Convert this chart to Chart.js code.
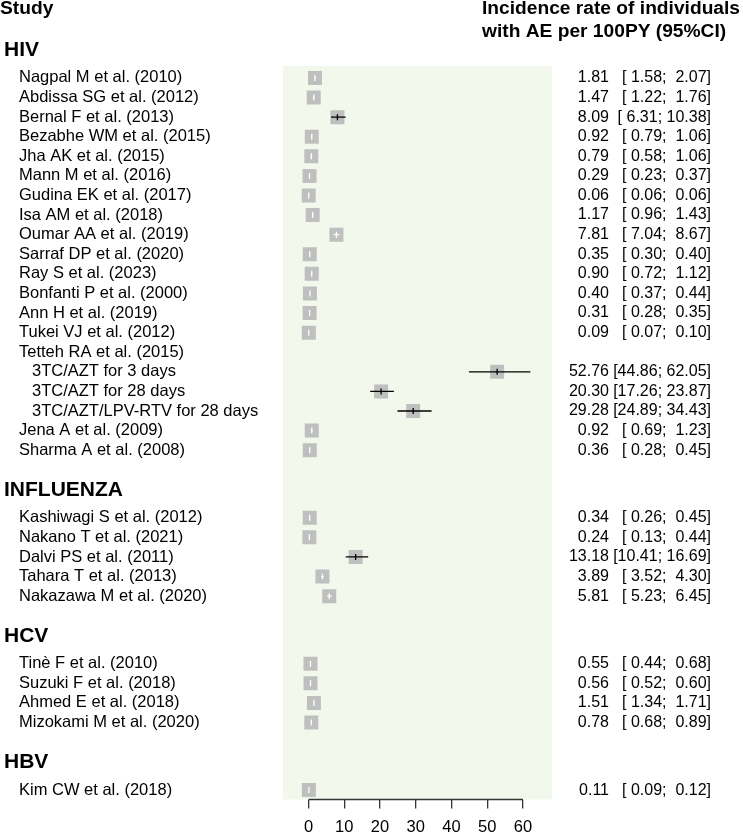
<!DOCTYPE html>
<html>
<head>
<meta charset="utf-8">
<script src="https://cdn.jsdelivr.net/npm/chart.js@4/dist/chart.umd.min.js"></script>
<style>
  body { margin: 0; background: #fff; }
  canvas { display: block; }
</style>
</head>
<body>
<canvas id="forest" width="743" height="835"></canvas>
<script>
// subgroups, in drawing order
const groups = ["HIV", "INFLUENZA", "HCV", "HBV"];

// one entry per row
const studies = [
  "Nagpal M et al. (2010)", "Abdissa SG et al. (2012)", "Bernal F et al. (2013)",
  "Bezabhe WM et al. (2015)", "Jha AK et al. (2015)", "Mann M et al. (2016)",
  "Gudina EK et al. (2017)", "Isa AM et al. (2018)", "Oumar AA et al. (2019)",
  "Sarraf DP et al. (2020)", "Ray S et al. (2023)", "Bonfanti P et al. (2000)",
  "Ann H et al. (2019)", "Tukei VJ et al. (2012)", "Tetteh RA et al. (2015)",
  "3TC/AZT for 3 days", "3TC/AZT for 28 days", "3TC/AZT/LPV-RTV for 28 days",
  "Jena A et al. (2009)", "Sharma A et al. (2008)",
  "Kashiwagi S et al. (2012)", "Nakano T et al. (2021)", "Dalvi PS et al. (2011)",
  "Tahara T et al. (2013)", "Nakazawa M et al. (2020)",
  "Tinè F et al. (2010)", "Suzuki F et al. (2018)", "Ahmed E et al. (2018)",
  "Mizokami M et al. (2020)",
  "Kim CW et al. (2018)"
];
const studyGroup = [
  "HIV", "HIV", "HIV", "HIV", "HIV", "HIV", "HIV", "HIV", "HIV", "HIV",
  "HIV", "HIV", "HIV", "HIV", "HIV", "HIV", "HIV", "HIV", "HIV", "HIV",
  "INFLUENZA", "INFLUENZA", "INFLUENZA", "INFLUENZA", "INFLUENZA",
  "HCV", "HCV", "HCV", "HCV",
  "HBV"
];
// sub-analyses belong to a parent study
const parentStudy = [
  null, null, null, null, null, null, null, null, null, null,
  null, null, null, null, null,
  "Tetteh RA et al. (2015)", "Tetteh RA et al. (2015)", "Tetteh RA et al. (2015)",
  null, null,
  null, null, null, null, null,
  null, null, null, null,
  null
];

// incidence per 100PY with 95% CI
const est = [
  1.81, 1.47, 8.09, 0.92, 0.79, 0.29, 0.06, 1.17, 7.81, 0.35,
  0.90, 0.40, 0.31, 0.09, null, 52.76, 20.30, 29.28, 0.92, 0.36,
  0.34, 0.24, 13.18, 3.89, 5.81,
  0.55, 0.56, 1.51, 0.78,
  0.11
];
const lower = [
  1.58, 1.22, 6.31, 0.79, 0.58, 0.23, 0.06, 0.96, 7.04, 0.30,
  0.72, 0.37, 0.28, 0.07, null, 44.86, 17.26, 24.89, 0.69, 0.28,
  0.26, 0.13, 10.41, 3.52, 5.23,
  0.44, 0.52, 1.34, 0.68,
  0.09
];
const upper = [
  2.07, 1.76, 10.38, 1.06, 1.06, 0.37, 0.06, 1.43, 8.67, 0.40,
  1.12, 0.44, 0.35, 0.10, null, 62.05, 23.87, 34.43, 1.23, 0.45,
  0.45, 0.44, 16.69, 4.30, 6.45,
  0.68, 0.60, 1.71, 0.89,
  0.12
];

const xTicks = [0, 10, 20, 30, 40, 50, 60];

const FONT = '"Liberation Sans", Arial, Helvetica, sans-serif';
const BOX = 14; // square side in px

// row position of every study and every subgroup header
const studyRow = [];
const headerRow = {};
let r = -1.45;
groups.forEach((g) => {
  headerRow[g] = r;
  r += 1.45;
  studies.forEach((s, i) => {
    if (studyGroup[i] === g) {
      studyRow[i] = r;
      r += 1;
    }
  });
  r += 1;
});

const points = [];
studies.forEach((s, i) => {
  if (est[i] !== null) points.push({ x: est[i], y: studyRow[i] });
});

function pad(v) {
  let s = v.toFixed(2);
  while (s.length < 5) s = " " + s;
  return s;
}

//green panel behind the plot
const panelBg = {
  id: "panelBg",
  beforeDraw(chart) {
    const a = chart.chartArea;
    const ctx = chart.ctx;
    ctx.save();
    ctx.fillStyle = "#f2f9ec";
    ctx.fillRect(a.left, a.top, a.right - a.left, a.bottom - a.top);
    ctx.restore();
  },
};

//confidence intervals, axis line and text columns
const forestText = {
  id: "forestText",
  afterDatasetsDraw(chart) {
    const ctx = chart.ctx;
    const xs = chart.scales.x;
    const ys = chart.scales.y;
    ctx.save();
    studies.forEach((s, i) => {
      if (est[i] === null) return;
      const y = ys.getPixelForValue(studyRow[i]);
      const x1 = xs.getPixelForValue(lower[i]);
      const x2 = xs.getPixelForValue(upper[i]);
      const xe = xs.getPixelForValue(est[i]);
      ctx.strokeStyle = x2 - x1 < BOX ? "#ffffff" : "#000000";
      ctx.lineWidth = 1.3;
      ctx.beginPath();
      ctx.moveTo(x1, y);
      ctx.lineTo(x2, y);
      ctx.moveTo(xe, y - 3);
      ctx.lineTo(xe, y + 3);
      ctx.stroke();
    });

    // x axis line from first to last tick
    const a = chart.chartArea;
    ctx.strokeStyle = "#333";
    ctx.lineWidth = 1.5;
    ctx.beginPath();
    ctx.moveTo(xs.getPixelForValue(xTicks[0]), a.bottom);
    ctx.lineTo(xs.getPixelForValue(xTicks[xTicks.length - 1]), a.bottom);
    ctx.stroke();
    ctx.restore();
  },
  afterDraw(chart) {
    const ctx = chart.ctx;
    const ys = chart.scales.y;
    ctx.save();
    ctx.fillStyle = "#000";
    ctx.textBaseline = "middle";

    ctx.font = "bold 19.2px " + FONT;
    ctx.textAlign = "left";
    ctx.fillText("Study", 0, 9);
    ctx.fillText("Incidence rate of individuals", 482, 9);
    ctx.fillText("with AE per 100PY (95%CI)", 482, 32);

    ctx.font = "bold 21px " + FONT;
    groups.forEach((g) => {
      ctx.fillText(g, 4, ys.getPixelForValue(headerRow[g]) + 1);
    });

    studies.forEach((s, i) => {
      const y = ys.getPixelForValue(studyRow[i]);
      ctx.font = "16.5px " + FONT;
      ctx.textAlign = "left";
      ctx.fillText(s, parentStudy[i] ? 32 : 19, y);
      if (est[i] === null) return;
      ctx.font = "16px " + FONT;
      ctx.textAlign = "right";
      ctx.fillText(est[i].toFixed(2), 609, y);
      ctx.fillText("[" + pad(lower[i]) + "; " + pad(upper[i]) + "]", 711, y);
    });
    ctx.restore();
  },
};

new Chart(document.getElementById("forest"), {
  type: "scatter",
  data: {
    datasets: [
      {
        data: points,
        pointStyle: "rect",
        pointRadius: BOX / 2 / Math.SQRT1_2,
        pointHoverRadius: BOX / 2 / Math.SQRT1_2,
        backgroundColor: "#bfbfbf",
        borderWidth: 0,
      },
    ],
  },
  plugins: [panelBg, forestText],
  options: {
    responsive: false,
    animation: false,
    layout: { padding: { left: 283, right: 191, top: 66, bottom: -12 } },
    plugins: { legend: { display: false }, tooltip: { enabled: false } },
    scales: {
      x: {
        type: "linear",
        min: -7.13,
        max: 68.1,
        afterBuildTicks: (axis) => {
          axis.ticks = xTicks.map((v) => ({ value: v }));
        },
        grid: {
          drawOnChartArea: false,
          drawTicks: true,
          tickLength: 9,
          color: "#333",
          lineWidth: 1.3,
        },
        border: { display: false },
        ticks: {
          color: "#000",
          padding: 11,
          maxRotation: 0,
          font: { family: FONT, size: 16.5, lineHeight: 1 },
        },
      },
      y: {
        type: "linear",
        reverse: true,
        min: -0.61,
        max: 36.83,
        display: false,
      },
    },
  },
});
</script>
</body>
</html>
